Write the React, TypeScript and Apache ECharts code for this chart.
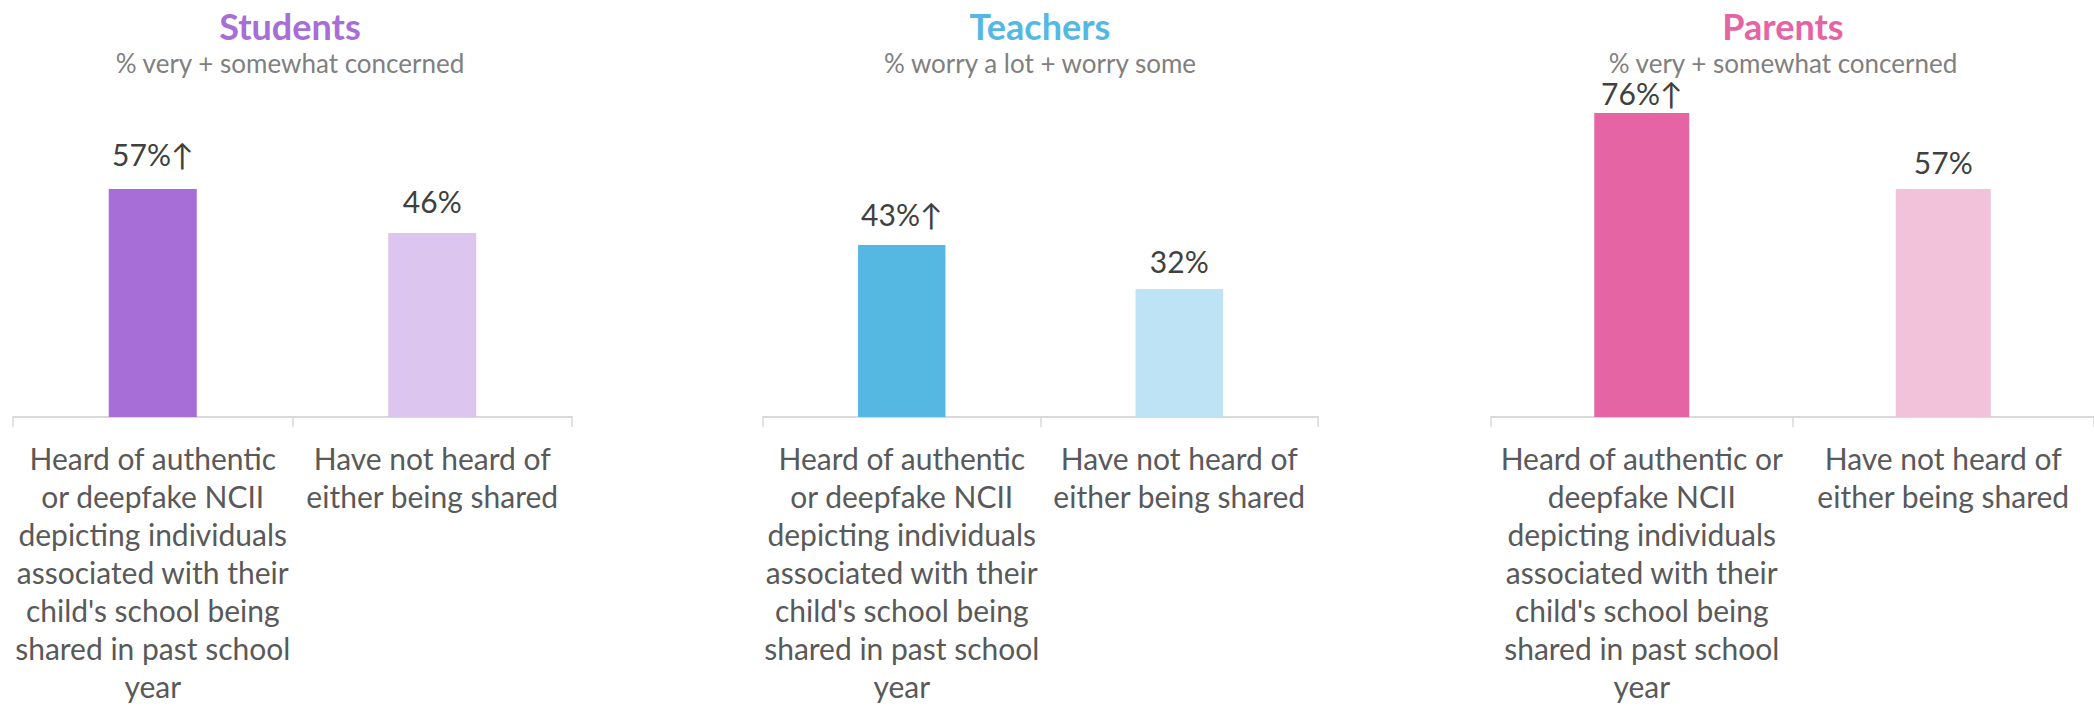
import React, { useEffect, useRef } from "react";
import * as echarts from "echarts";

// ---- data ----
const panelTitles = ["Students", "Teachers", "Parents"];
const panelSubtitles = [
  "% very + somewhat concerned",
  "% worry a lot + worry some",
  "% very + somewhat concerned",
];
const studentCategories = [
  "Heard of authentic\nor deepfake NCII\ndepicting individuals\nassociated with their\nchild's school being\nshared in past school\nyear",
  "Have not heard of\neither being shared",
];
const teacherCategories = [
  "Heard of authentic\nor deepfake NCII\ndepicting individuals\nassociated with their\nchild's school being\nshared in past school\nyear",
  "Have not heard of\neither being shared",
];
const parentCategories = [
  "Heard of authentic or\ndeepfake NCII\ndepicting individuals\nassociated with their\nchild's school being\nshared in past school\nyear",
  "Have not heard of\neither being shared",
];
const studentValues = [57, 46];
const teacherValues = [43, 32];
const parentValues = [76, 57];
const significantlyHigher = [true, false];

// ---- styling ----
const FONT = "Lato";
const darkColors = ["#A66ED6", "#54B8E3", "#E464A4"];
const lightColors = ["#DCC5EF", "#BEE3F4", "#F2C1DA"];
const grids = [
  { left: 13, width: 559 },
  { left: 763, width: 555 },
  { left: 1491, width: 615 },
];
const titleCenters = [290, 1040, 1783];
const labelDistances = [
  [20, 17],
  [16, 13],
  [5, 12],
];

export default function App() {
  const ref = useRef<HTMLDivElement>(null);

  useEffect(() => {
    if (!ref.current) return;
    const chart = echarts.init(ref.current, null, { renderer: "svg" });
    const cats = [studentCategories, teacherCategories, parentCategories];
    const vals = [studentValues, teacherValues, parentValues];

    const option: any = {
      animation: false,
      backgroundColor: "#ffffff",
      textStyle: { fontFamily: FONT },
      grid: grids.map((g) => ({
        left: g.left,
        width: g.width,
        top: 17,
        height: 400,
        containLabel: false,
      })),
      xAxis: cats.map((c, i) => ({
        type: "category",
        gridIndex: i,
        data: c,
        boundaryGap: true,
        axisLine: { show: true, lineStyle: { color: "#D9D9D9", width: 2 } },
        axisTick: {
          show: true,
          length: 10,
          alignWithLabel: false,
          lineStyle: { color: "#D9D9D9", width: 1.5 },
        },
        axisLabel: {
          interval: 0,
          color: "#595959",
          fontFamily: FONT,
          fontSize: 30,
          lineHeight: 38,
          margin: 22,
          align: "center",
        },
      })),
      yAxis: cats.map((_, i) => ({
        type: "value",
        gridIndex: i,
        min: 0,
        max: 100,
        show: false,
        splitLine: { show: false },
      })),
      series: vals.map((v, i) => ({
        type: "bar",
        xAxisIndex: i,
        yAxisIndex: i,
        barWidth: "31.5%",
        data: v.map((val, j) => ({
          value: val,
          itemStyle: { color: j === 0 ? darkColors[i] : lightColors[i] },
          label: { distance: labelDistances[i][j] },
        })),
        label: {
          show: true,
          position: "top",
          color: "#404040",
          fontFamily: FONT,
          fontSize: 30,
          lineHeight: 30,
          formatter: (p: any) =>
            p.value + "%" + (significantlyHigher[p.dataIndex] ? "↑" : ""),
        },
      })),
      graphic: [
        ...panelTitles.map((t, i) => ({
          type: "text",
          x: titleCenters[i],
          y: 26,
          style: {
            text: t,
            fill: darkColors[i],
            fontFamily: FONT,
            fontWeight: "bold",
            fontSize: 36,
            align: "center",
            verticalAlign: "middle",
          },
        })),
        ...panelSubtitles.map((t, i) => ({
          type: "text",
          x: titleCenters[i],
          y: 63,
          style: {
            text: t,
            fill: "#808080",
            fontFamily: FONT,
            fontSize: 26,
            lineHeight: 26,
            align: "center",
            verticalAlign: "middle",
          },
        })),
      ],
    };
    chart.setOption(option);
    return () => chart.dispose();
  }, []);

  return (
    <div
      ref={ref}
      style={{ position: "absolute", left: 0, top: 0, width: 2094, height: 707 }}
    />
  );
}
